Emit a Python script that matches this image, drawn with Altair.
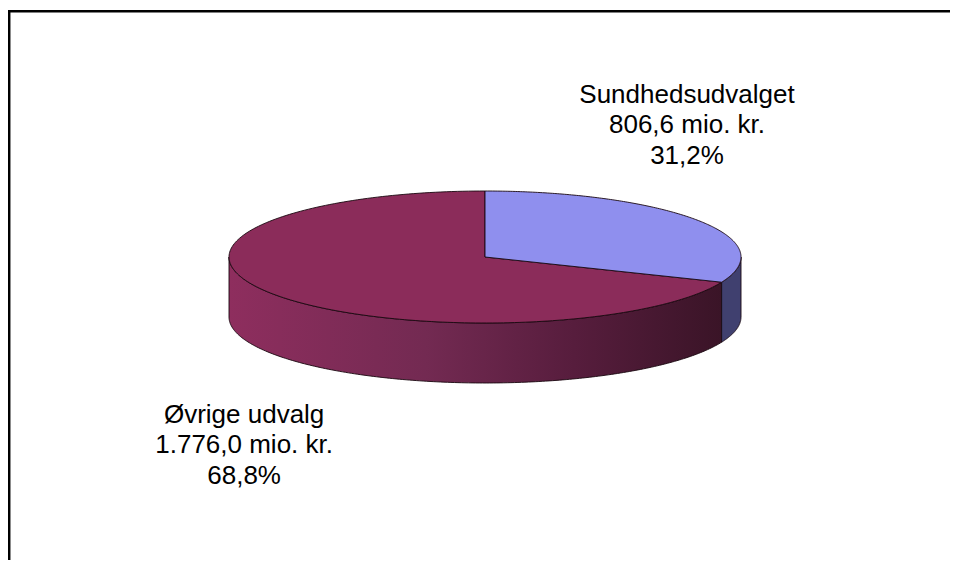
import altair as alt
import numpy as np
import pandas as pd

# ---- data ----
categories = ["Sundhedsudvalget", "Øvrige udvalg"]
values = [806.6, 1776.0]            # mio. kr.
top_colors = ["#8f8fee", "#8b2c5a"]
side_colors = ["#40406f", None]     # red side uses a gradient

# ---- layout (in pie units, rx = 1) ----
RY = 66 / 256
DEPTH = 60 / 256
label_x = [0.789, -0.941]
label_y = [-0.6016, 0.648]

total = sum(values)
fracs = [v / total for v in values]
starts = np.cumsum([0] + fracs[:-1]) * 360
ends = np.cumsum(fracs) * 360


def fmt_dk(v, dec=1):
    s = f"{v:,.{dec}f}"
    return s.replace(",", "X").replace(".", ",").replace("X", ".")


def ell(theta_deg, dy=0.0):
    t = np.radians(theta_deg)
    return np.sin(t), -RY * np.cos(t) + dy


def top_wedge(a, b):
    th = np.linspace(a, b, 200)
    xs, ys = ell(th)
    x = np.concatenate([[0], xs, [0]])
    y = np.concatenate([[0], ys, [0]])
    return pd.DataFrame({"x": x, "y": y, "i": np.arange(len(x))})


def side_wall(a, b):
    # visible front half only: 90..270 degrees
    a2, b2 = max(a, 90), min(b, 270)
    th = np.linspace(a2, b2, 200)
    xt, yt = ell(th)
    xb, yb = ell(th[::-1], DEPTH)
    x = np.concatenate([xt, xb, xt[:1]])
    y = np.concatenate([yt, yb, yt[:1]])
    return pd.DataFrame({"x": x, "y": y, "i": np.arange(len(x))})


W, H = 942, 552
XS = alt.Scale(domain=[-1.8633, -1.8633 + W / 256], nice=False, zero=False)
YS = alt.Scale(domain=[-0.97266, -0.97266 + H / 256], nice=False, zero=False, reverse=True)


def poly(df, fill, stroke="#1a0810", sw=0.9):
    return alt.Chart(df).mark_line(
        fill=fill, stroke=stroke, strokeWidth=sw, strokeJoin="round"
    ).encode(
        x=alt.X("x:Q", scale=XS, axis=None),
        y=alt.Y("y:Q", scale=YS, axis=None),
        order=alt.Order("i:Q"),
    )


red_grad = alt.LinearGradient(
    gradient="linear",
    stops=[
        alt.GradientStop(color="#8e2e5e", offset=0),
        alt.GradientStop(color="#732a52", offset=0.4),
        alt.GradientStop(color="#571d3d", offset=0.7),
        alt.GradientStop(color="#3a1427", offset=1),
    ],
    x1=0, x2=1, y1=0, y2=0,
)

layers = []
# side walls
layers.append(poly(side_wall(starts[1], ends[1]), red_grad))
layers.append(poly(side_wall(starts[0], ends[0]), side_colors[0]))
# top faces
layers.append(poly(top_wedge(starts[1], ends[1]), top_colors[1]))
layers.append(poly(top_wedge(starts[0], ends[0]), top_colors[0]))

labels = pd.DataFrame({
    "x": label_x,
    "y": label_y,
    "txt": [f"{c}\n{fmt_dk(v)} mio. kr.\n{fmt_dk(f * 100)}%"
            for c, v, f in zip(categories, values, fracs)],
})
layers.append(
    alt.Chart(labels).mark_text(
        font="Liberation Sans", fontSize=26, color="black", align="center",
        baseline="alphabetic", lineBreak="\n", lineHeight=30.5,
    ).encode(
        x=alt.X("x:Q", scale=XS, axis=None),
        y=alt.Y("y:Q", scale=YS, axis=None),
        text="txt:N",
    )
)

# chart frame (left and top edges)
frame_left = alt.Chart(pd.DataFrame({"a": [0]})).mark_rule(
    color="black", strokeWidth=2.5
).encode(x=alt.value(1.2), y=alt.value(2), y2=alt.value(H))
frame_top = alt.Chart(pd.DataFrame({"a": [0]})).mark_rule(
    color="black", strokeWidth=2.5
).encode(y=alt.value(3.2), x=alt.value(0), x2=alt.value(W))
layers += [frame_left, frame_top]

chart = alt.layer(*layers).properties(
    width=W, height=H,
    padding=0,
    autosize=alt.AutoSizeParams(type="none"),
).configure_view(stroke=None)

chart.save("out.html", embed_options={"renderer": "svg", "actions": False})
